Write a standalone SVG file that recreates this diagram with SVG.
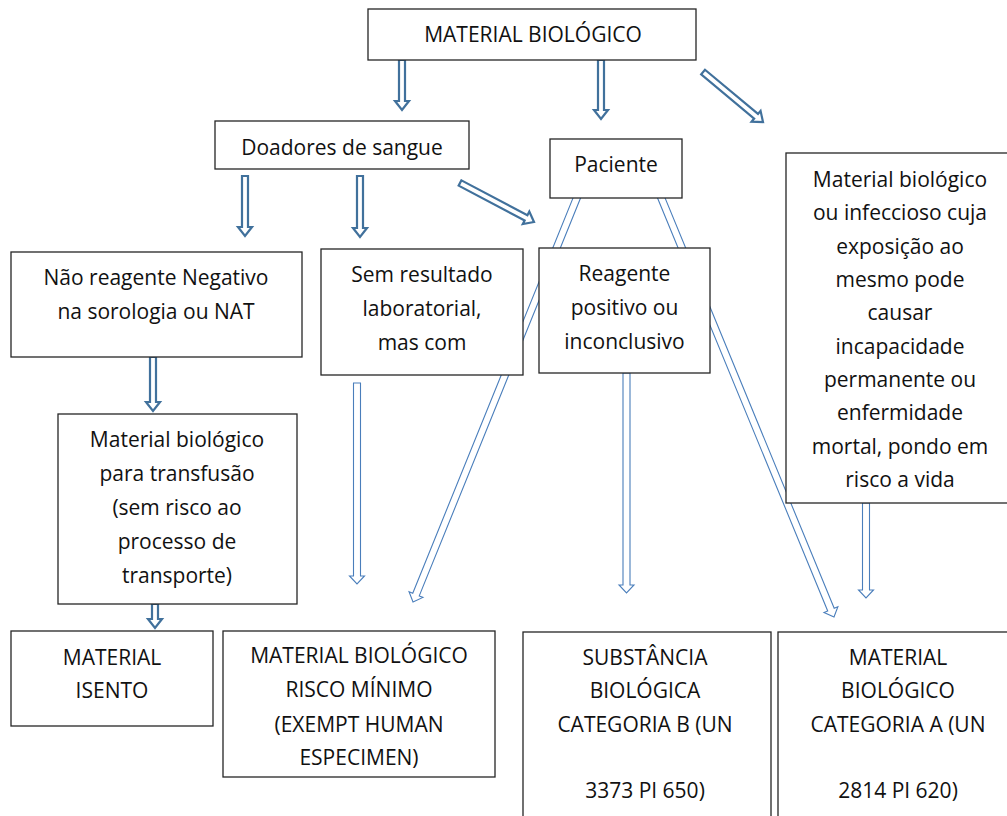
<svg xmlns="http://www.w3.org/2000/svg" width="1007" height="816" viewBox="0 0 1007 816">
<style>
.box{fill:#fff;stroke:#262626;stroke-width:1.3}
.t{font-family:"Open Sans","Noto Sans","Liberation Sans",sans-serif;font-size:21px;fill:#111;text-anchor:middle}
.thick{fill:#fff;stroke:#41719C;stroke-width:2.2;stroke-linejoin:miter}
.thin{fill:#fff;stroke:#4A7EBB;stroke-width:1.1;stroke-linejoin:miter}
</style>
<rect width="1007" height="816" fill="#fff"/>
<g id="connectors">
  <polygon class="thick" transform="translate(402,110) rotate(90)" points="-50,-3 -9,-3 -9,-7 0,0 -9,7 -9,3 -50,3"/>
  <polygon class="thick" transform="translate(601,119) rotate(90)" points="-59,-3 -9,-3 -9,-7 0,0 -9,7 -9,3 -59,3"/>
  <polygon class="thick" transform="translate(763,122) rotate(39.8)" points="-78,-3 -9,-3 -9,-7 0,0 -9,7 -9,3 -78,3"/>
  <polygon class="thick" transform="translate(245,236) rotate(90)" points="-60,-3 -9,-3 -9,-7 0,0 -9,7 -9,3 -60,3"/>
  <polygon class="thick" transform="translate(360,237) rotate(90)" points="-61,-3 -9,-3 -9,-7 0,0 -9,7 -9,3 -61,3"/>
  <polygon class="thick" transform="translate(534,222) rotate(27.8)" points="-83.6,-3 -9,-3 -9,-7 0,0 -9,7 -9,3 -83.6,3"/>
  <polygon class="thick" transform="translate(153,411) rotate(90)" points="-54,-3 -9,-3 -9,-7 0,0 -9,7 -9,3 -54,3"/>
  <polygon class="thick" transform="translate(155,628) rotate(90)" points="-24,-3 -9,-3 -9,-7 0,0 -9,7 -9,3 -24,3"/>
  <polygon class="thin" transform="translate(357,584) rotate(90)" points="-201,-3.5 -8,-3.5 -8,-7.5 0,0 -8,7.5 -8,3.5 -201,3.5"/>
  <polygon class="thin" transform="translate(413,602) rotate(112.07)" points="-439.2,-3.5 -8,-3.5 -8,-7.5 0,0 -8,7.5 -8,3.5 -439.2,3.5"/>
  <polygon class="thin" transform="translate(626.5,593) rotate(90)" points="-220,-3.5 -8,-3.5 -8,-7.5 0,0 -8,7.5 -8,3.5 -220,3.5"/>
  <polygon class="thin" transform="translate(834,617) rotate(67.6)" points="-456.5,-3.5 -8,-3.5 -8,-7.5 0,0 -8,7.5 -8,3.5 -456.5,3.5"/>
  <polygon class="thin" transform="translate(866,598) rotate(90)" points="-95,-3.5 -8,-3.5 -8,-7.5 0,0 -8,7.5 -8,3.5 -95,3.5"/>
</g>
<g id="material-biologico">
  <rect class="box" x="368" y="9" width="328" height="51"/>
  <text class="t" x="533" y="42">MATERIAL BIOLÓGICO</text>
</g>
<g id="doadores">
  <rect class="box" x="215" y="121" width="254" height="48"/>
  <text class="t" x="342" y="155">Doadores de sangue</text>
</g>
<g id="paciente">
  <rect class="box" x="550" y="139" width="132" height="59"/>
  <text class="t" x="616" y="172">Paciente</text>
</g>
<g id="infeccioso">
  <rect class="box" x="786" y="153" width="228" height="350"/>
  <text class="t" x="900" y="187">Material biológico</text>
  <text class="t" x="900" y="220.3">ou infeccioso cuja</text>
  <text class="t" x="900" y="253.7">exposição ao</text>
  <text class="t" x="900" y="287">mesmo pode</text>
  <text class="t" x="900" y="320.3">causar</text>
  <text class="t" x="900" y="353.7">incapacidade</text>
  <text class="t" x="900" y="387">permanente ou</text>
  <text class="t" x="900" y="420.3">enfermidade</text>
  <text class="t" x="900" y="453.7">mortal, pondo em</text>
  <text class="t" x="900" y="487">risco a vida</text>
</g>
<g id="nao-reagente">
  <rect class="box" x="11" y="252" width="291" height="105"/>
  <text class="t" x="156" y="285">Não reagente Negativo</text>
  <text class="t" x="156" y="319">na sorologia ou NAT</text>
</g>
<g id="sem-resultado">
  <rect class="box" x="321" y="249" width="202" height="126"/>
  <text class="t" x="422" y="282">Sem resultado</text>
  <text class="t" x="422" y="316">laboratorial,</text>
  <text class="t" x="422" y="350">mas com</text>
</g>
<g id="reagente">
  <rect class="box" x="539" y="248" width="171" height="125"/>
  <text class="t" x="624.5" y="281">Reagente</text>
  <text class="t" x="624.5" y="315">positivo ou</text>
  <text class="t" x="624.5" y="349">inconclusivo</text>
</g>
<g id="transfusao">
  <rect class="box" x="58" y="414" width="239" height="190"/>
  <text class="t" x="177" y="447">Material biológico</text>
  <text class="t" x="177" y="481">para transfusão</text>
  <text class="t" x="177" y="515">(sem risco ao</text>
  <text class="t" x="177" y="549">processo de</text>
  <text class="t" x="177" y="583">transporte)</text>
</g>
<g id="isento">
  <rect class="box" x="11" y="631" width="202" height="95"/>
  <text class="t" x="112" y="665">MATERIAL</text>
  <text class="t" x="112" y="698">ISENTO</text>
</g>
<g id="risco-minimo">
  <rect class="box" x="223" y="631" width="272" height="146"/>
  <text class="t" x="359" y="663">MATERIAL BIOLÓGICO</text>
  <text class="t" x="359" y="697">RISCO MÍNIMO</text>
  <text class="t" x="359" y="732">(EXEMPT HUMAN</text>
  <text class="t" x="359" y="765">ESPECIMEN)</text>
</g>
<g id="categoria-b">
  <rect class="box" x="523" y="632" width="248" height="200"/>
  <text class="t" x="645" y="665">SUBSTÂNCIA</text>
  <text class="t" x="645" y="698">BIOLÓGICA</text>
  <text class="t" x="645" y="732">CATEGORIA B (UN</text>
  <text class="t" x="645" y="798">3373 PI 650)</text>
</g>
<g id="categoria-a">
  <rect class="box" x="778" y="632" width="240" height="200"/>
  <text class="t" x="898" y="665">MATERIAL</text>
  <text class="t" x="898" y="698">BIOLÓGICO</text>
  <text class="t" x="898" y="732">CATEGORIA A (UN</text>
  <text class="t" x="898" y="798">2814 PI 620)</text>
</g>
</svg>
